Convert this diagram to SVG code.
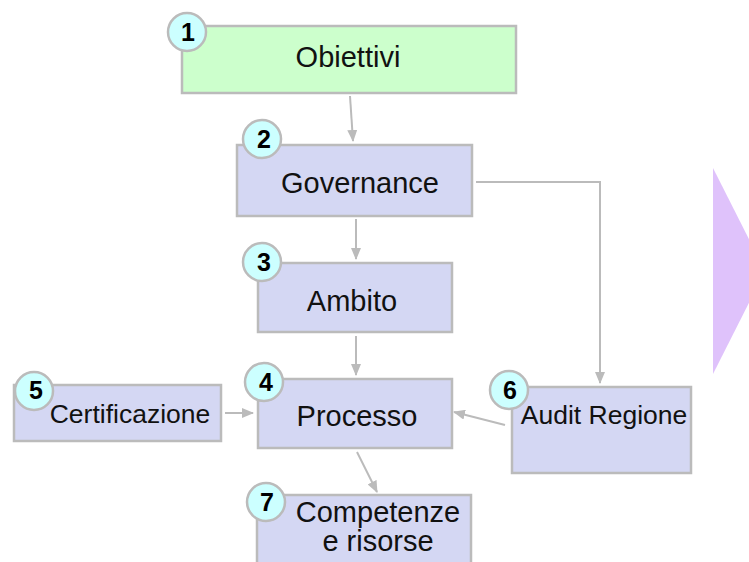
<svg xmlns="http://www.w3.org/2000/svg" width="749" height="562" viewBox="0 0 749 562">
<style>
.box{fill:#d4d7f3;stroke:#bbbbbb;stroke-width:2.5}
.green{fill:#ccffcc}
.badge{fill:#ccffff;stroke:#bbbbbb;stroke-width:2.5}
.num{font-family:"Liberation Sans",Arial,sans-serif;font-weight:bold;font-size:25px;fill:#000;text-anchor:middle}
.lbl{font-family:"Liberation Sans",Arial,sans-serif;font-size:29px;fill:#111;text-anchor:middle}
.sm{font-size:26.5px}
.conn{fill:none;stroke:#bbbbbb;stroke-width:2}
</style>
<defs>
<marker id="ah" markerWidth="12" markerHeight="10" refX="11" refY="5" orient="auto" markerUnits="userSpaceOnUse">
<path d="M0,0 L12,5 L0,10 Z" fill="#bbbbbb"/>
</marker>
</defs>
<polygon points="713,168 765,271 713,374" fill="#dfc2fb"/>
<g id="connectors">
<line class="conn" x1="350" y1="96" x2="353" y2="141" marker-end="url(#ah)"/>
<line class="conn" x1="356" y1="219" x2="356" y2="259" marker-end="url(#ah)"/>
<line class="conn" x1="356" y1="336" x2="356" y2="375" marker-end="url(#ah)"/>
<polyline class="conn" points="476,182 600,182 600,383" marker-end="url(#ah)"/>
<line class="conn" x1="225" y1="413" x2="253" y2="413" marker-end="url(#ah)"/>
<line class="conn" x1="505" y1="425" x2="454" y2="412" marker-end="url(#ah)"/>
<line class="conn" x1="357" y1="452" x2="377" y2="492" marker-end="url(#ah)"/>
</g>
<g id="n1">
<rect class="box green" x="182" y="26" width="334" height="67"/>
<circle class="badge" cx="187" cy="32" r="19"/>
<text class="num" x="188" y="41">1</text>
<text class="lbl" x="348" y="67">Obiettivi</text>
</g>
<g id="n2">
<rect class="box" x="237" y="145" width="235" height="71"/>
<circle class="badge" cx="262" cy="139" r="19"/>
<text class="num" x="264" y="148">2</text>
<text class="lbl" x="360" y="193">Governance</text>
</g>
<g id="n3">
<rect class="box" x="258" y="263" width="194" height="69"/>
<circle class="badge" cx="262" cy="262" r="19"/>
<text class="num" x="264" y="271">3</text>
<text class="lbl" x="352" y="311">Ambito</text>
</g>
<g id="n4">
<rect class="box" x="258" y="379" width="194" height="69"/>
<circle class="badge" cx="264" cy="382" r="19"/>
<text class="num" x="266" y="391">4</text>
<text class="lbl" x="357" y="426">Processo</text>
</g>
<g id="n5">
<rect class="box" x="14" y="385" width="207" height="56"/>
<circle class="badge" cx="34" cy="391" r="19"/>
<text class="num" x="36" y="399">5</text>
<text class="lbl sm" x="130" y="423">Certificazione</text>
</g>
<g id="n6">
<rect class="box" x="512" y="387" width="179" height="86"/>
<circle class="badge" cx="509" cy="390" r="19"/>
<text class="num" x="510" y="399">6</text>
<text class="lbl sm" x="604" y="424">Audit Regione</text>
</g>
<g id="n7">
<rect class="box" x="257" y="495" width="214" height="80"/>
<circle class="badge" cx="266" cy="502" r="19"/>
<text class="num" x="267" y="511">7</text>
<text class="lbl" x="378" y="522">Competenze</text>
<text class="lbl" x="378" y="551">e risorse</text>
</g>
</svg>
